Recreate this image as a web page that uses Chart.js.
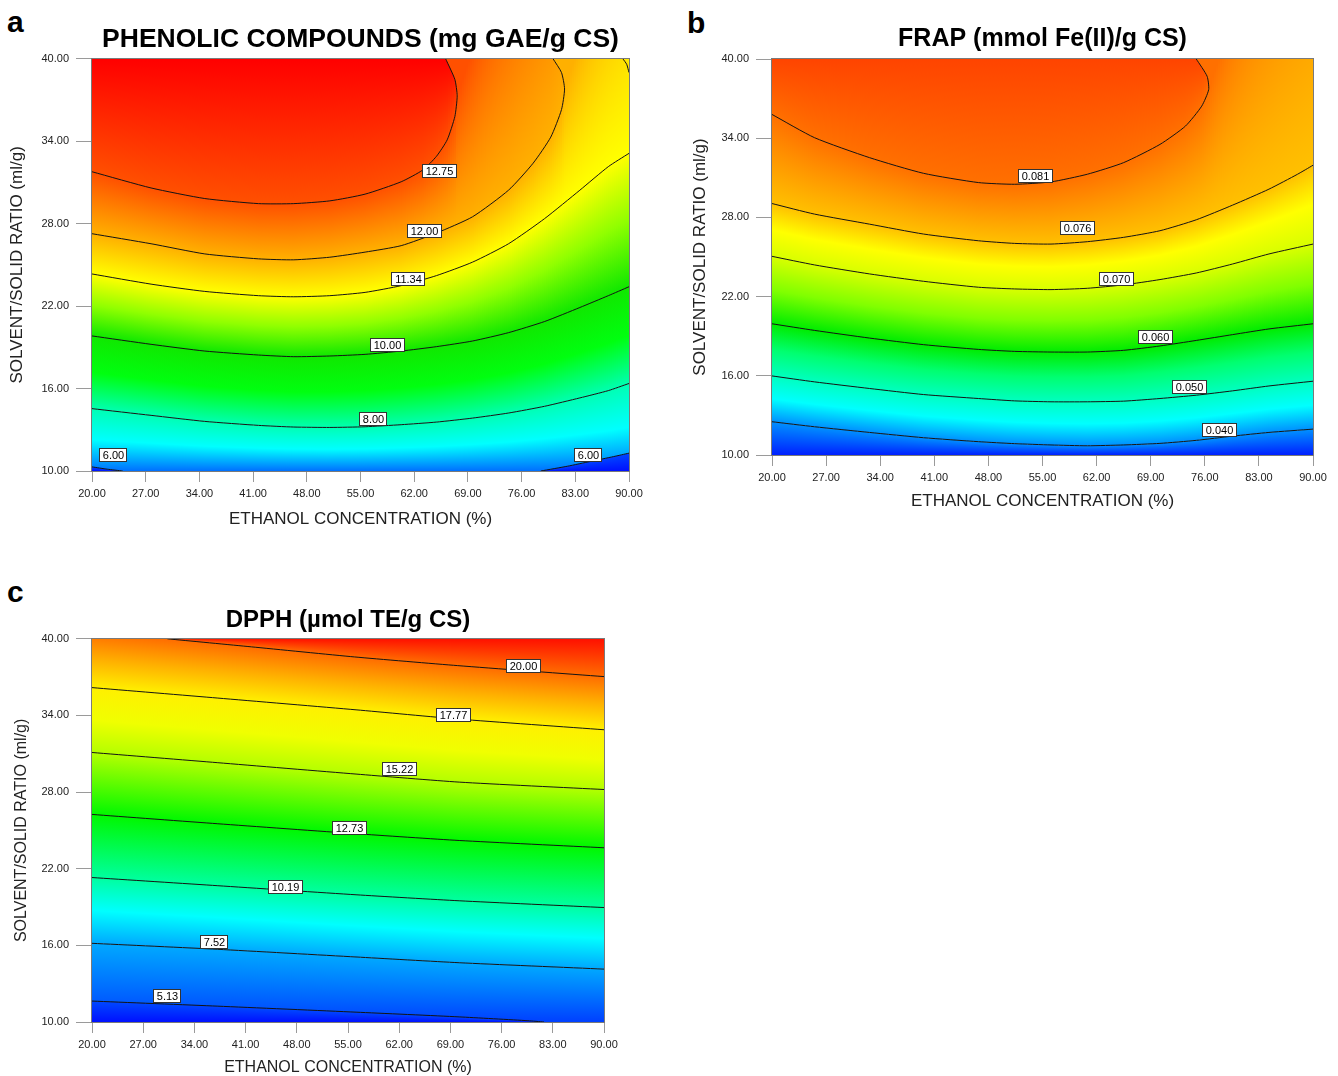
<!DOCTYPE html>
<html lang="en">
<head>
<meta charset="UTF-8">
<title>Contour plots: phenolic compounds, FRAP, DPPH</title>
<script src="https://cdn.jsdelivr.net/npm/chart.js"></script>
<style>
  body { margin: 0; background: #fff; font-family: "Liberation Sans", Arial, sans-serif; }
  #page { position: relative; width: 1338px; height: 1076px; overflow: hidden; }
  canvas { position: absolute; }
  .tag { position: absolute; font-weight: bold; font-size: 30px; line-height: 1; color: #000; }
</style>
</head>
<body>
<div id="page">
  <div class="tag" style="left:7px;top:7px">a</div>
  <div class="tag" style="left:687px;top:8px">b</div>
  <div class="tag" style="left:7px;top:577px">c</div>
  <canvas id="chartA" width="660" height="545" style="left:0;top:0"></canvas>
  <canvas id="chartB" width="658" height="520" style="left:680px;top:0"></canvas>
  <canvas id="chartC" width="640" height="496" style="left:0;top:580px"></canvas>
</div>

<script>
// axis ticks (same for all three panels)
var xTicks = [20, 27, 34, 41, 48, 55, 62, 69, 76, 83, 90];
var yTicks = [10, 16, 22, 28, 34, 40];

// --- a: phenolic compounds, contour lines as [ethanol %, ratio ml/g]
var phenolic1275 = [[20,31.78],[27.7,30.6],[34.7,29.83],[41.7,29.46],[46.3,29.46],[51,29.66],[55.6,30.15],[60.3,31.05],[63.1,31.9],[64.9,32.9],[66.3,34.1],[67.3,35.8],[67.6,37.3],[67.3,38.5],[66.1,40]];
var phenolic1200 = [[20,27.27],[27.7,26.54],[34.7,25.8],[41.7,25.44],[46.3,25.37],[51,25.56],[55.6,25.93],[60.3,26.4],[64.9,27.32],[69.6,28.5],[74.3,30.44],[77.5,32.4],[79.8,34.3],[81.2,36.3],[81.6,37.8],[81.2,39],[80.1,40]];
var phenolic1134 = [[20,24.34],[27.7,23.6],[34.7,23.07],[41.7,22.76],[46.3,22.68],[51,22.76],[55.6,23],[60.3,23.49],[64.9,24.22],[69.6,25.2],[74.3,26.54],[79,28.37],[83.6,30.44],[87.3,32.15],[90,33.12]];
var phenolicCorner = [[89.2,40],[89.7,39.6],[90,39]];
var phenolic1000 = [[20,19.83],[27.7,19.22],[34.7,18.73],[41.7,18.44],[46.3,18.32],[51,18.37],[55.6,18.49],[60.3,18.73],[64.9,19.05],[69.6,19.46],[74.3,20.07],[79,20.88],[83.6,21.9],[87.3,22.76],[90,23.41]];
var phenolic800 = [[20,14.54],[27.7,14.05],[34.7,13.61],[41.7,13.32],[46.3,13.2],[51,13.17],[55.6,13.22],[60.3,13.37],[64.9,13.56],[69.6,13.85],[74.3,14.22],[79,14.71],[83.6,15.32],[87.3,15.85],[90,16.37]];
var phenolic600a = [[20,10.3],[22,10.13],[24,10]];
var phenolic600b = [[78.5,10],[82,10.35],[85,10.7],[88,11.05],[90,11.3]];
var phenolicTagText = ['12.75', '12.00', '11.34', '10.00', '8.00', '6.00', '6.00'];
var phenolicTagX = [65.2, 63.3, 61.2, 58.4, 56.6, 22.7, 84.7];
var phenolicTagY = [31.83, 27.44, 24.0, 19.17, 13.78, 11.17, 11.17];

// --- b: FRAP
var frap081 = [[20,35.8],[25.5,34.04],[32.6,32.53],[39.6,31.34],[46.7,30.64],[51.4,30.51],[56.1,30.69],[60.8,31.27],[65.5,32.15],[70.2,33.53],[73.5,34.92],[75.6,36.43],[76.5,37.68],[76.3,38.69],[74.9,40]];
var frap076 = [[20,29.05],[25.5,28.25],[32.6,27.49],[39.6,26.74],[46.7,26.23],[51.4,26.03],[56.1,25.98],[60.8,26.16],[65.5,26.49],[70.2,26.99],[74.9,27.82],[79.6,28.93],[84.3,30.14],[88,31.27],[90,31.95]];
var frap070 = [[20,25.05],[25.5,24.4],[32.6,23.72],[39.6,23.16],[46.7,22.71],[51.4,22.58],[56.1,22.53],[60.8,22.63],[65.5,22.89],[70.2,23.29],[74.9,23.79],[79.6,24.47],[84.3,25.23],[90,25.98]];
var frap060 = [[20,19.94],[25.5,19.44],[32.6,18.86],[39.6,18.36],[46.7,18],[51.4,17.85],[56.1,17.8],[60.8,17.8],[65.5,17.93],[70.2,18.26],[74.9,18.68],[79.6,19.12],[84.3,19.55],[90,19.94]];
var frap050 = [[20,15.99],[25.5,15.54],[32.6,15.04],[39.6,14.58],[46.7,14.28],[51.4,14.1],[56.1,14.03],[60.8,14.03],[65.5,14.08],[70.2,14.28],[74.9,14.53],[79.6,14.86],[84.3,15.23],[90,15.59]];
var frap040 = [[20,12.52],[25.5,12.14],[32.6,11.71],[39.6,11.31],[46.7,11.01],[51.4,10.86],[56.1,10.76],[60.8,10.7],[65.5,10.76],[70.2,10.88],[74.9,11.11],[79.6,11.43],[84.3,11.71],[90,11.96]];
var frapTagText = ['0.081', '0.076', '0.070', '0.060', '0.050', '0.040'];
var frapTagX = [54.0, 59.4, 64.5, 69.5, 73.9, 77.9];
var frapTagY = [31.14, 27.19, 23.34, 18.91, 15.13, 11.89];

// --- c: DPPH
var dpph2000 = [[30.3,40],[41.8,39.37],[55.9,38.58],[70,37.9],[90,37.04]];
var dpph1777 = [[20,36.18],[37.2,35.36],[56.1,34.44],[70.2,33.71],[90,32.88]];
var dpph1522 = [[20,31.1],[37.2,30.3],[56.1,29.41],[70.2,28.78],[90,28.2]];
var dpph1273 = [[20,26.25],[37.2,25.52],[56.1,24.74],[70.2,24.21],[90,23.64]];
var dpph1019 = [[20,21.31],[37.2,20.67],[56.1,19.96],[70.2,19.49],[90,18.96]];
var dpph752 = [[20,16.16],[37.2,15.69],[56.1,15.09],[70.2,14.64],[90,14.14]];
var dpph513 = [[20,11.64],[37.2,11.24],[56.1,10.77],[70.2,10.4],[79.6,10.1],[81.8,10]];
var dpphTagText = ['20.00', '17.77', '15.22', '12.73', '10.19', '7.52', '5.13'];
var dpphTagX = [78.9, 69.4, 62.0, 55.1, 46.4, 36.7, 30.3];
var dpphTagY = [37.85, 34.05, 29.8, 25.16, 20.6, 16.25, 12.0];

Chart.defaults.font.family = '"Liberation Sans", Arial, Helvetica, sans-serif';
Chart.defaults.color = '#222';

function toPts(arr) {
    return arr.map(function (p) { return { x: p[0], y: p[1] }; });
}

// pixel y where a drawn contour crosses a given pixel column (lowest one if several)
function crossY(pts, px) {
    var best = null;
    for (var i = 0; i < pts.length - 1; i++) {
        var p = pts[i], q = pts[i + 1];
        if ((p.x - px) * (q.x - px) <= 0 && p.x !== q.x) {
            var y = p.y + (q.y - p.y) * (px - p.x) / (q.x - p.x);
            if (best === null || y > best) best = y;
        }
    }
    return best;
}

// past the end of the next line the colour target is pushed up out of the plot
function pastTip(pts, px, spread) {
    var lo = pts[0], hi = pts[0];
    pts.forEach(function (p) {
        if (p.x < lo.x) lo = p;
        if (p.x > hi.x) hi = p;
    });
    var tip = px > hi.x ? hi : lo;
    return tip.y - spread * Math.abs(px - tip.x);
}

// fills the area on one side of a contour line; colour runs column by column
// from this line to the next one so the shading follows the contours
function bandFill(regions) {
    return {
        id: 'bandFill',
        beforeDatasetsDraw: function (chart) {
            var ctx = chart.ctx, a = chart.chartArea;
            ctx.save();
            ctx.beginPath();
            ctx.rect(a.left, a.top, a.right - a.left, a.bottom - a.top);
            ctx.clip();
            regions.forEach(function (r) {
                var line = chart.getDatasetMeta(r.ds).dataset;
                line.updateControlPoints(a, 'x');
                var pts = line.points;
                var first = pts[0], last = pts[pts.length - 1];
                var edge = r.side === 'above' ? a.top : a.bottom;
                var tpts = r.to === 'edge' ? null : chart.getDatasetMeta(r.to).dataset.points;

                ctx.save();
                ctx.beginPath();
                line.path(ctx);
                ctx.lineTo(last.x, edge);
                ctx.lineTo(first.x, edge);
                ctx.closePath();
                ctx.clip();

                for (var sx = Math.floor(a.left); sx < a.right; sx += 2) {
                    var cx = sx + 1;
                    var y0 = crossY(pts, cx);
                    if (y0 === null) {
                        y0 = Math.abs(cx - first.x) < Math.abs(cx - last.x) ? first.y : last.y;
                    }
                    var y1 = edge;
                    if (tpts) {
                        y1 = crossY(tpts, cx);
                        if (y1 === null) y1 = pastTip(tpts, cx, r.spread || 2);
                    }
                    if (Math.abs(y1 - y0) < 0.5) y1 = y0 + (r.side === 'above' ? -0.5 : 0.5);
                    var g = ctx.createLinearGradient(0, y0, 0, y1);
                    r.colors.forEach(function (c, i) { g.addColorStop(i / (r.colors.length - 1), c); });
                    ctx.fillStyle = g;
                    ctx.fillRect(sx, a.top, 2, a.bottom - a.top);
                }
                ctx.restore();
            });
            ctx.restore();
        }
    };
}

// boxed level values sitting on the lines
function levelTags(text, xs, ys) {
    return {
        id: 'levelTags',
        afterDatasetsDraw: function (chart) {
            var ctx = chart.ctx, sx = chart.scales.x, sy = chart.scales.y;
            ctx.save();
            ctx.font = '11px "Liberation Sans", Arial, sans-serif';
            ctx.textAlign = 'center';
            ctx.textBaseline = 'middle';
            text.forEach(function (t, i) {
                var px = Math.round(sx.getPixelForValue(xs[i]));
                var py = Math.round(sy.getPixelForValue(ys[i]));
                var w = Math.round(ctx.measureText(t).width) + 6, h = 13;
                var l = px - Math.round(w / 2), tp = py - 7;
                ctx.fillStyle = '#fff';
                ctx.fillRect(l, tp, w, h);
                ctx.strokeStyle = '#333';
                ctx.lineWidth = 1;
                ctx.strokeRect(l + 0.5, tp + 0.5, w, h);
                ctx.fillStyle = '#000';
                ctx.fillText(t, px + 0.5, py + 0.5);
            });
            ctx.restore();
        }
    };
}

var plotFrame = {
    id: 'plotFrame',
    afterDatasetsDraw: function (chart) {
        var ctx = chart.ctx, a = chart.chartArea;
        ctx.save();
        ctx.strokeStyle = '#7a7a7a';
        ctx.lineWidth = 1;
        ctx.strokeRect(Math.round(a.left) - 0.5, Math.round(a.top) - 0.5,
            Math.round(a.right - a.left) + 1, Math.round(a.bottom - a.top) + 1);
        ctx.restore();
    }
};

function contourChart(id, cfg) {
    return new Chart(document.getElementById(id), {
        type: 'scatter',
        data: {
            datasets: cfg.lines.map(function (l) {
                return {
                    data: toPts(l), showLine: true, fill: false,
                    borderColor: '#141414', borderWidth: 1,
                    pointRadius: 0, tension: 0.2
                };
            })
        },
        options: {
            responsive: false,
            animation: false,
            events: [],
            layout: { padding: { left: 0, right: cfg.padRight, top: 0, bottom: 0 } },
            scales: {
                x: {
                    type: 'linear', min: 20, max: 90,
                    afterBuildTicks: function (s) { s.ticks = xTicks.map(function (v) { return { value: v }; }); },
                    afterFit: function (s) { s.height = cfg.xHeight; },
                    grid: { drawOnChartArea: false, tickLength: 11, color: '#9a9a9a' },
                    border: { color: '#7a7a7a' },
                    ticks: {
                        padding: 5, color: '#222', font: { size: 11 }, maxRotation: 0, autoSkip: false,
                        callback: function (v) { return Number(v).toFixed(2); }
                    },
                    title: {
                        display: true, text: 'ETHANOL CONCENTRATION (%)', color: '#222',
                        font: { size: cfg.axisFont, lineHeight: 1 },
                        padding: { top: 0, bottom: cfg.xTitlePad }
                    }
                },
                y: {
                    type: 'linear', min: 10, max: 40,
                    afterBuildTicks: function (s) { s.ticks = yTicks.map(function (v) { return { value: v }; }); },
                    afterFit: function (s) { s.width = cfg.yWidth; },
                    grid: { drawOnChartArea: false, tickLength: 16, color: '#9a9a9a' },
                    border: { color: '#7a7a7a' },
                    ticks: {
                        padding: 7, color: '#222', font: { size: 11 },
                        callback: function (v) { return Number(v).toFixed(2); }
                    },
                    title: {
                        display: true, text: 'SOLVENT/SOLID RATIO (ml/g)', color: '#222',
                        font: { size: cfg.axisFont, lineHeight: 1 },
                        padding: { top: cfg.yTitlePad, bottom: 0 }
                    }
                }
            },
            plugins: {
                legend: { display: false },
                tooltip: { enabled: false },
                title: {
                    display: true, text: cfg.title, fullSize: false, color: '#000',
                    font: { size: cfg.titleFont, weight: 'bold', lineHeight: 1.2 },
                    padding: cfg.titlePad
                }
            }
        },
        plugins: [bandFill(cfg.regions), levelTags(cfg.tagText, cfg.tagX, cfg.tagY), plotFrame]
    });
}

contourChart('chartA', {
    title: 'PHENOLIC COMPOUNDS (mg GAE/g CS)', titleFont: 26.5, titlePad: { top: 24, bottom: 3 },
    axisFont: 17, padRight: 31, yWidth: 92, xHeight: 74, xTitlePad: 17, yTitlePad: 9,
    lines: [phenolic1275, phenolic1200, phenolic1134, phenolicCorner, phenolic1000, phenolic800, phenolic600a, phenolic600b],
    tagText: phenolicTagText, tagX: phenolicTagX, tagY: phenolicTagY,
    regions: [
        { ds: 5, side: 'below', to: 'edge', colors: ['#00ffb4', '#00ffff', '#0070ff'] },
        { ds: 6, side: 'below', to: 'edge', colors: ['#0044ff', '#0010ff'] },
        { ds: 7, side: 'below', to: 'edge', colors: ['#0044ff', '#0010ff'] },
        { ds: 5, side: 'above', to: 4, colors: ['#00ffb0', '#00ff10', '#10e800'] },
        { ds: 4, side: 'above', to: 2, colors: ['#10e800', '#90ff00', '#ffff00'] },
        { ds: 2, side: 'above', to: 1, colors: ['#ffff00', '#ffb000'], spread: 3 },
        { ds: 3, side: 'above', to: 'edge', colors: ['#ffd800', '#fff000'] },
        { ds: 1, side: 'above', to: 0, colors: ['#ffb000', '#ff5000'], spread: 3 },
        { ds: 0, side: 'above', to: 'edge', colors: ['#ff5000', '#ff0000'] }
    ]
});

contourChart('chartB', {
    title: 'FRAP (mmol Fe(II)/g CS)', titleFont: 25, titlePad: { top: 24, bottom: 5 },
    axisFont: 17, padRight: 25, yWidth: 92, xHeight: 65, xTitlePad: 10, yTitlePad: 12,
    lines: [frap081, frap076, frap070, frap060, frap050, frap040],
    tagText: frapTagText, tagX: frapTagX, tagY: frapTagY,
    regions: [
        { ds: 5, side: 'below', to: 'edge', colors: ['#0090ff', '#0020ff'] },
        { ds: 5, side: 'above', to: 4, colors: ['#0090ff', '#00ffff', '#00ffc0'] },
        { ds: 4, side: 'above', to: 3, colors: ['#00ffc0', '#00ff70', '#00ec00'] },
        { ds: 3, side: 'above', to: 2, colors: ['#00ec00', '#80ff00', '#d8ff00'] },
        { ds: 2, side: 'above', to: 1, colors: ['#d8ff00', '#ffff00', '#ffc000'] },
        { ds: 1, side: 'above', to: 0, colors: ['#ffc000', '#ff7000'], spread: 3 },
        { ds: 0, side: 'above', to: 'edge', colors: ['#ff7000', '#ff4400'] }
    ]
});

contourChart('chartC', {
    title: 'DPPH (\u00b5mol TE/g CS)', titleFont: 24, titlePad: { top: 26, bottom: 4 },
    axisFont: 16, padRight: 36, yWidth: 92, xHeight: 54, xTitlePad: 0, yTitlePad: 14,
    lines: [dpph2000, dpph1777, dpph1522, dpph1273, dpph1019, dpph752, dpph513],
    tagText: dpphTagText, tagX: dpphTagX, tagY: dpphTagY,
    regions: [
        { ds: 5, side: 'below', to: 'edge', colors: ['#00a8ff', '#0040ff'] },
        { ds: 6, side: 'below', to: 'edge', colors: ['#0048ff', '#0010ff'] },
        { ds: 5, side: 'above', to: 4, colors: ['#00a8ff', '#00ffff', '#00ffa0'] },
        { ds: 4, side: 'above', to: 3, colors: ['#00ffa0', '#00f800'] },
        { ds: 3, side: 'above', to: 2, colors: ['#00f800', '#b4ff00'] },
        { ds: 2, side: 'above', to: 1, colors: ['#b4ff00', '#f0ff00', '#fff000'] },
        { ds: 1, side: 'above', to: 0, colors: ['#fff000', '#ffb000', '#ff6c00'], spread: 0.1 },
        { ds: 0, side: 'above', to: 'edge', colors: ['#ff6c00', '#ff1000'] }
    ]
});
</script>
</body>
</html>
